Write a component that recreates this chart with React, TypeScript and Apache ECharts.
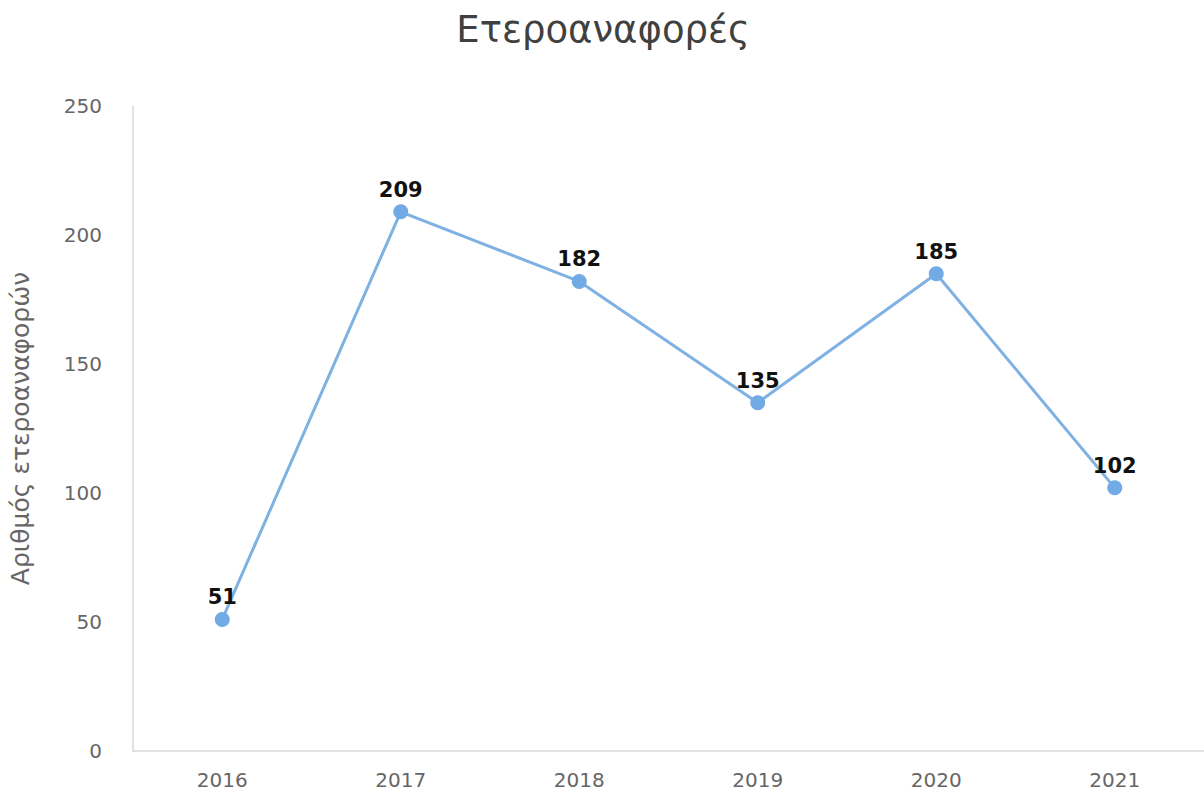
import React, { useEffect, useRef } from "react";
import * as echarts from "echarts";

const titleText = "Ετεροαναφορές";
const yAxisName = "Αριθμός ετεροαναφορών";
const years = ["2016", "2017", "2018", "2019", "2020", "2021"];
const counts = [51, 209, 182, 135, 185, 102];

export default function App() {
  const ref = useRef<HTMLDivElement>(null);
  useEffect(() => {
    if (!ref.current) return;
    const chart = echarts.init(ref.current, undefined, { renderer: "svg" });
    const font = "'DejaVu Sans', 'Open Sans', sans-serif";
    chart.setOption({
      animation: false,
      backgroundColor: "#ffffff",
      title: {
        text: titleText,
        left: 598,
        top: 6,
        textAlign: "center",
        textStyle: { fontFamily: font, fontSize: 37, fontWeight: "normal", color: "#404040" },
      },
      grid: {
        left: 133,
        right: 0,
        top: 106,
        bottom: 42,
        containLabel: false,
        outerBoundsMode: "none",
      },
      xAxis: {
        type: "category",
        data: years,
        boundaryGap: true,
        axisLine: { show: true, lineStyle: { color: "#d9d9d9", width: 1.5 } },
        axisTick: { show: false },
        axisLabel: { color: "#666666", fontSize: 20, fontFamily: font, margin: 19 },
      },
      yAxis: {
        type: "value",
        min: 0,
        max: 250,
        interval: 50,
        name: yAxisName,
        nameLocation: "middle",
        nameRotate: 90,
        nameGap: 100,
        nameTextStyle: { color: "#666666", fontSize: 25, fontFamily: font },
        axisLine: { show: true, lineStyle: { color: "#d9d9d9", width: 1.5 } },
        axisTick: { show: false },
        splitLine: { show: false },
        axisLabel: { color: "#666666", fontSize: 20, fontFamily: font, margin: 31 },
      },
      series: [
        {
          type: "line",
          data: counts,
          symbol: "circle",
          symbolSize: 15,
          itemStyle: { color: "#72aae6" },
          lineStyle: { color: "#7fb1e3", width: 3 },
          label: {
            show: true,
            position: "top",
            distance: 4,
            color: "#111111",
            fontWeight: "bold",
            fontSize: 21,
            fontFamily: font,
          },
        },
      ],
    });
    return () => chart.dispose();
  }, []);
  return (
    <div
      ref={ref}
      style={{ position: "absolute", left: 0, top: 0, width: 1204, height: 793 }}
    />
  );
}
